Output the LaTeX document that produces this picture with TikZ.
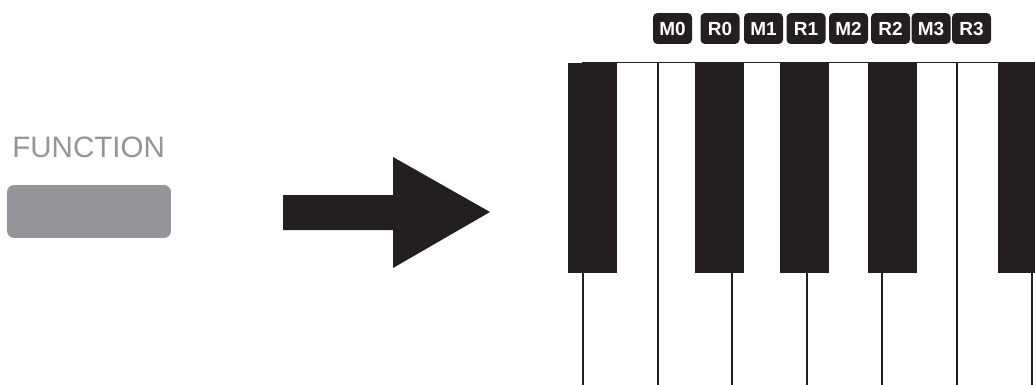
\documentclass[tikz,border=0pt]{standalone}
\usepackage{fontspec}
\setmainfont{Liberation Sans}
\usepackage{tikz}
\usetikzlibrary{positioning, calc}
\usepackage{xcolor}
\definecolor{keyblack}{HTML}{231F20}
\definecolor{fngray}{HTML}{939598}

\begin{document}
\begin{tikzpicture}[
      x=0.02cm, y=-0.02cm,
      keylabel/.style={fill=keyblack, text=white, rounded corners=2.5pt,
        font=\bfseries\fontsize{10.8}{12}\selectfont, minimum width=0.78cm,
        minimum height=0.62cm, inner sep=0pt},
      blackkey/.style={fill=keyblack, draw=none},
      keyline/.style={draw=keyblack, line width=1.1pt},
      fnbutton/.style={fill=fngray, rounded corners=4pt, minimum width=3.28cm,
        minimum height=1.06cm, inner sep=0pt},
    ]
    \useasboundingbox (0,0) rectangle (1035,385);

    % function button
    \node[font=\fontsize{16.8}{20}\selectfont, text=fngray, anchor=base west,
      inner sep=0pt] (fnlabel) at (12,157) {FUNCTION};
    \node[fnbutton] (fnbtn) at (89,211.5) {};

    % big arrow
    \fill[keyblack] (283,195) -- (393,195) -- (393,157) -- (490,212)
      -- (393,268) -- (393,230) -- (283,230) -- cycle;

    % keyboard: white keys
    \draw[keyline, line width=0.9pt] (582,62.5) -- (1035,62.5);
    \foreach \x in {583, 658, 732, 807, 882, 957, 1032}
      \draw[keyline] (\x,62.5) -- (\x,385);

    % keyboard: black keys
    \foreach \x/\w in {568/49, 695/49, 780/49, 868/49, 998/37}
      \fill[blackkey] (\x,63) rectangle ++(\w,210);

    % key labels
    \foreach \name/\x in {M0/672.5, R0/720, M1/763.5, R1/806,
                          M2/848.5, R2/890.5, M3/931, R3/971.5}
      \node[keylabel] (lbl\name) at (\x,28.5) {\name};
  \end{tikzpicture}
\end{document}
